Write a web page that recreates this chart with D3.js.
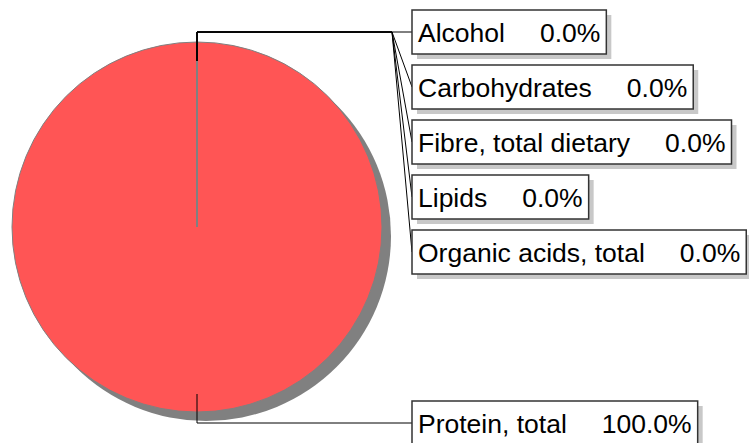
<!DOCTYPE html>
<html>
<head>
<meta charset="utf-8">
<script src="https://cdn.jsdelivr.net/npm/d3@7"></script>
<style>
  body { margin: 0; background: #fff; }
  svg { display: block; }
</style>
</head>
<body>
<div class="chart"></div>
<script>
var categories = ['Alcohol', 'Carbohydrates', 'Fibre, total dietary', 'Lipids', 'Organic acids, total', 'Protein, total'];
var values = [0, 0, 0, 0, 0, 100];
var colors = ['#5555ff', '#55ff55', '#ffff55', '#55ffff', '#ff55ff', '#ff5555'];

var w = 749;
var h = 443;
var cx = 197, cy = 227, r = 185;

var svg = d3.select('.chart')
            .append('svg')
            .attr('width', w)
            .attr('height', h);

var total = d3.sum(values);
var data = categories.map(function(c, i) {
    return { name: c, value: values[i], color: colors[i], pct: values[i] / total * 100 };
});

var pie = d3.pie()
            .sort(null)
            .value(function(d) { return d.value; });

var arc = d3.arc().innerRadius(0).outerRadius(r);

var arcs = pie(data);

var g = svg.append('g').attr('transform', 'translate(' + cx + ',' + cy + ')');

// shadow
g.selectAll('path.shadow')
 .data(arcs)
 .enter()
 .append('path')
 .attr('class', 'shadow')
 .attr('transform', 'translate(9,9)')
 .attr('d', arc)
 .attr('fill', '#808080');

g.selectAll('path.slice')
 .data(arcs)
 .enter()
 .append('path')
 .attr('class', 'slice')
 .attr('d', arc)
 .attr('fill', function(d) { return d.data.color; })
 .attr('stroke', '#808080')
 .attr('stroke-width', 1);

// slice edges (radii)
g.selectAll('line.edge')
 .data(arcs)
 .enter()
 .append('line')
 .attr('class', 'edge')
 .attr('x1', 0).attr('y1', 0)
 .attr('x2', function(d) { return Math.sin(d.startAngle) * r; })
 .attr('y2', function(d) { return -Math.cos(d.startAngle) * r; })
 .attr('stroke', '#808080')
 .attr('stroke-width', 1.5);

// label layout
var fontSize = 26.5;
var boxH = 44, step = 55, boxX = 412, elbowX = 392, pad = 6, gap = 35;

arcs.forEach(function(d) {
    var a = (d.startAngle + d.endAngle) / 2;
    d.ax = Math.round(cx + Math.sin(a) * r * 0.9);
    d.ay = Math.round(cy - Math.cos(a) * r * 0.9);
    var up = Math.cos(a) >= 0;
    d.ey = Math.round(up ? d.ay - 29 : d.ay + 29);
});

var order = arcs.slice().sort(function(a, b) { return a.ey - b.ey; });
var last = -Infinity;
order.forEach(function(d) {
    d.my = Math.max(d.ey, last + step);
    last = d.my;
});

// leader lines
var leaders = svg.append('g');
arcs.forEach(function(d) {
    leaders.append('path')
        .attr('d', 'M' + d.ax + ',' + d.ay + 'L' + d.ax + ',' + d.ey +
                   'L' + elbowX + ',' + d.ey + 'L' + boxX + ',' + d.my)
        .attr('fill', 'none')
        .attr('stroke', '#000')
        .attr('stroke-width', 1);
});

// label boxes
var labels = svg.selectAll('g.label')
    .data(arcs)
    .enter()
    .append('g')
    .attr('class', 'label');

labels.each(function(d) {
    var lg = d3.select(this);
    var shadow = lg.append('rect');
    var box = lg.append('rect');
    var t1 = lg.append('text')
        .attr('x', boxX + pad)
        .attr('y', d.my + 10)
        .attr('font-family', 'Liberation Sans, Arial, sans-serif')
        .attr('font-size', fontSize + 'px')
        .attr('fill', '#000')
        .text(d.data.name);
    var lw = t1.node().getComputedTextLength();
    var t2 = lg.append('text')
        .attr('x', boxX + pad + lw + gap)
        .attr('y', d.my + 10)
        .attr('font-family', 'Liberation Sans, Arial, sans-serif')
        .attr('font-size', fontSize + 'px')
        .attr('fill', '#000')
        .text(d.data.pct.toFixed(1) + '%');
    var vw = t2.node().getComputedTextLength();
    var bw = pad + lw + gap + vw + pad;
    shadow.attr('x', boxX + 5).attr('y', d.my - boxH / 2 + 5)
          .attr('width', bw).attr('height', boxH)
          .attr('fill', '#c8c8c8');
    box.attr('x', boxX).attr('y', d.my - boxH / 2)
       .attr('width', bw).attr('height', boxH)
       .attr('fill', '#fff')
       .attr('stroke', '#333')
       .attr('stroke-width', 1.5);
});
</script>
</body>
</html>
